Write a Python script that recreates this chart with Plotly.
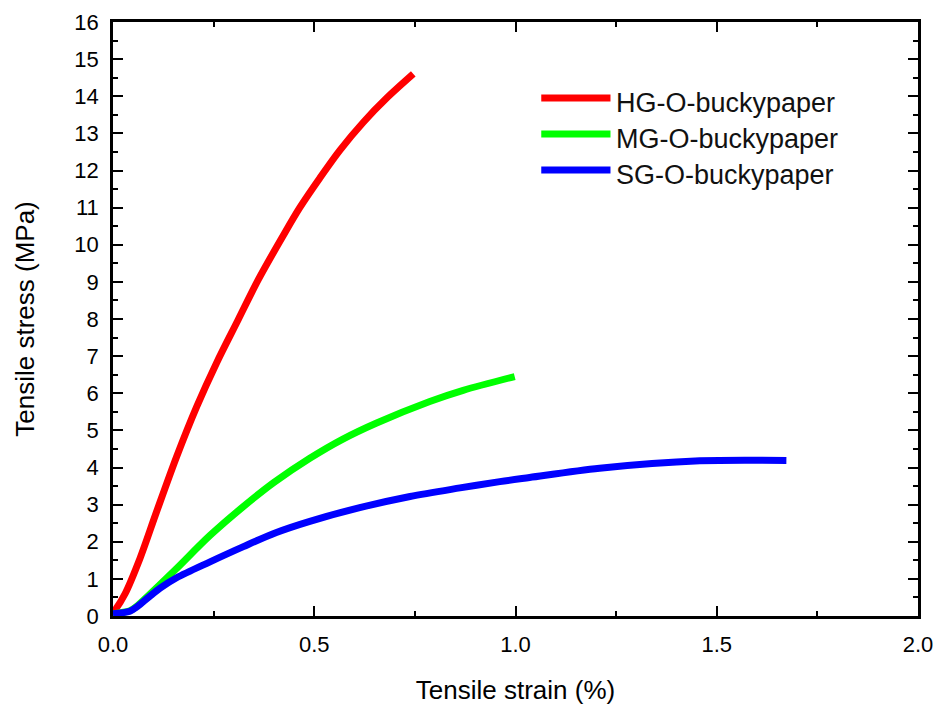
import plotly.graph_objects as go

# Tensile strain (%) and stress (MPa)
hg_strain = [0.0, 0.005, 0.03, 0.067, 0.108, 0.158, 0.208, 0.257, 0.311, 0.361, 0.423, 0.464, 0.514, 0.564, 0.622, 0.680, 0.746]
hg_stress = [0.1, 0.16, 0.6, 1.55, 2.8, 4.29, 5.64, 6.81, 7.98, 9.06, 10.25, 11.0, 11.8, 12.55, 13.3, 13.95, 14.6]

mg_strain = [0.0, 0.042, 0.06, 0.09, 0.12, 0.158, 0.241, 0.324, 0.4, 0.489, 0.57, 0.655, 0.787, 0.87, 0.998]
mg_stress = [0.06, 0.14, 0.27, 0.57, 0.88, 1.28, 2.17, 2.95, 3.6, 4.25, 4.76, 5.2, 5.78, 6.08, 6.45]

sg_strain = [0.0, 0.042, 0.06, 0.09, 0.117, 0.158, 0.241, 0.324, 0.406, 0.489, 0.613, 0.738, 0.862, 0.961, 1.035, 1.209, 1.458, 1.673]
sg_stress = [0.06, 0.13, 0.25, 0.52, 0.75, 1.03, 1.46, 1.87, 2.25, 2.55, 2.92, 3.22, 3.45, 3.62, 3.73, 3.98, 4.18, 4.19]

series_names = ["HG-O-buckypaper", "MG-O-buckypaper", "SG-O-buckypaper"]
series_colors = ["#ff0000", "#00ff00", "#0000ff"]
series_x = [hg_strain, mg_strain, sg_strain]
series_y = [hg_stress, mg_stress, sg_stress]

FONT = "Liberation Sans, Arial, sans-serif"

fig = go.Figure()
for name, color, xs, ys in zip(series_names, series_colors, series_x, series_y):
    fig.add_trace(go.Scatter(x=xs, y=ys, mode="lines", name=name,
                             line=dict(color=color, width=7, shape="spline", smoothing=0.9),
                             showlegend=False))

# custom legend (long line samples like the reference)
legend_line_y = [0.872, 0.8114, 0.7508]
for name, color, ly in zip(series_names, series_colors, legend_line_y):
    fig.add_shape(type="line", xref="paper", yref="paper",
                  x0=0.532, x1=0.618, y0=ly, y1=ly,
                  line=dict(color=color, width=7))
    fig.add_annotation(xref="paper", yref="paper", x=0.622, y=ly - 0.008, text=name,
                       showarrow=False, xanchor="left", yanchor="middle",
                       font=dict(family=FONT, size=27, color="#111111"))

axis_common = dict(
    showline=True, linewidth=2.5, linecolor="black", mirror="allticks",
    ticks="inside", ticklen=10, tickwidth=2, tickcolor="black",
    showgrid=False, zeroline=False,
    tickfont=dict(family=FONT, size=22, color="black"),
    ticklabelstandoff=7,
)

fig.update_xaxes(range=[0, 2], dtick=0.5, tick0=0, tickformat=".1f",
                 minor=dict(ticks="inside", ticklen=5, tickwidth=2, tickcolor="black", dtick=0.25),
                 title=dict(text="Tensile strain (%)", font=dict(family=FONT, size=26, color="black"), standoff=25),
                 **axis_common)
fig.update_yaxes(range=[0, 16], dtick=1, tick0=0,
                 minor=dict(ticks="inside", ticklen=5, tickwidth=2, tickcolor="black", dtick=0.5),
                 title=dict(text="Tensile stress (MPa)", font=dict(family=FONT, size=26, color="black"), standoff=33),
                 **axis_common)

fig.update_layout(
    width=937, height=708,
    margin=dict(l=113, r=19, t=22, b=92, autoexpand=False),
    paper_bgcolor="white", plot_bgcolor="white",
    font=dict(family=FONT, color="black"),
)

fig.write_html("out.html",
               config={"displayModeBar": False},
               post_script="document.body.style.margin='0';document.body.style.overflow='hidden';")
